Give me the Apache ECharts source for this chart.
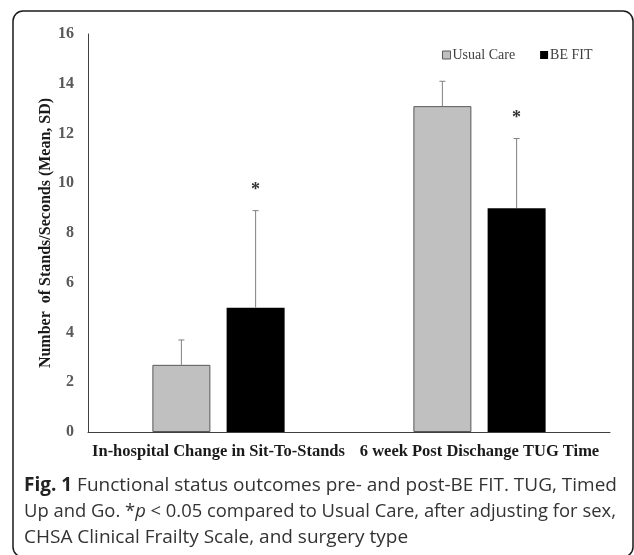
<!DOCTYPE html>
<html>
<head>
<meta charset="utf-8">
<script src="https://cdn.jsdelivr.net/npm/echarts@6/dist/echarts.min.js"></script>
<style>
html,body{margin:0;padding:0;background:#fff;}
#c{width:634px;height:555px;}
</style>
</head>
<body>
<div id="c"></div>
<script>
// ---- data ----
var categories = ['In-hospital Change in Sit-To-Stands', '6 week Post Dischange TUG Time'];
var seriesNames = ['Usual Care', 'BE FIT'];
var usualCareMean = [2.7, 13.1];
var usualCareSD = [1.0, 1.0];
var beFitMean = [5.0, 9.0];
var beFitSD = [3.9, 2.8];
var beFitSignificant = [true, true];
var yTicks = [0, 2, 4, 6, 8, 10, 12, 14, 16];

// ---- style constants ----
var SERIF = 'Liberation Serif';
var BAR_W = 58;
var GAP_RATIO = 0.28;
var OFFSET = (BAR_W + BAR_W * GAP_RATIO) / 2;

function errData(means, sds, sig) {
  return means.map(function (m, i) { return [i, m, sds[i], sig && sig[i] ? 1 : 0]; });
}

function errRender(dir) {
  return function (params, api) {
    var idx = api.value(0), mean = api.value(1), sd = api.value(2), sig = api.value(3);
    var p0 = api.coord([idx, mean]);
    var p1 = api.coord([idx, mean + sd]);
    var x = p0[0] + dir * OFFSET;
    var children = [
      { type: 'line', shape: { x1: x, y1: p0[1], x2: x, y2: p1[1] }, style: { stroke: '#808080', lineWidth: 1 } },
      { type: 'line', shape: { x1: x - 3, y1: p1[1], x2: x + 3, y2: p1[1] }, style: { stroke: '#808080', lineWidth: 1 } }
    ];
    if (sig) {
      children.push({ type: 'text', x: x, y: p1[1] - 20, style: { text: '*', fontFamily: SERIF, fontWeight: 'bold', fontSize: 18, fill: '#333', align: 'center', verticalAlign: 'middle' } });
    }
    return { type: 'group', children: children };
  };
}

var chart = echarts.init(document.getElementById('c'));
chart.setOption({
  animation: false,
  backgroundColor: '#fff',
  grid: { left: 88, right: 24, top: 34, bottom: 123 },
  legend: {
    data: [
      { name: seriesNames[0], itemStyle: { color: '#c0c0c0', borderColor: '#595959', borderWidth: 1 } },
      { name: seriesNames[1], itemStyle: { color: '#000' } }
    ],
    left: 437, top: 43, itemWidth: 8, itemHeight: 8, itemGap: 25,
    icon: 'rect',
    textStyle: { fontFamily: SERIF, fontSize: 14, color: '#404040', padding: [0, 0, 0, -3] }
  },
  xAxis: {
    type: 'category',
    data: categories,
    axisLine: { lineStyle: { color: '#404040', width: 1 } },
    axisTick: { show: false },
    axisLabel: { fontFamily: SERIF, fontWeight: 'bold', fontSize: 16.5, color: '#1a1a1a', margin: 11, interval: 0 }
  },
  yAxis: {
    type: 'value',
    min: yTicks[0], max: yTicks[yTicks.length - 1], interval: 2,
    name: 'Number  of Stands/Seconds (Mean, SD)',
    nameLocation: 'middle',
    nameGap: 34,
    nameMoveOverlap: false,
    nameTextStyle: { fontFamily: SERIF, fontWeight: 'bold', fontSize: 16, color: '#1a1a1a' },
    axisLine: { show: true, lineStyle: { color: '#404040', width: 1 } },
    axisTick: { show: false },
    splitLine: { show: false },
    axisLabel: { fontFamily: SERIF, fontWeight: 'bold', fontSize: 16, color: '#595959', margin: 14 }
  },
  graphic: [
    { type: 'rect', shape: { x: 13, y: 11, width: 620, height: 546, r: 10 }, style: { fill: 'none', stroke: '#1a1a1a', lineWidth: 1.5 }, z: 100 },
    { type: 'text', left: 24, top: 473, style: {
        text: '{b|Fig. 1} Functional status outcomes pre- and post-BE FIT. TUG, Timed\n{n|Up and Go. *}{i|p}{n| < 0.05 compared to Usual Care, after adjusting for sex,}\nCHSA Clinical Frailty Scale, and surgery type',
        fontFamily: 'Open Sans', fontSize: 19, fill: '#333', lineHeight: 26,
        rich: {
          b: { fontFamily: 'Open Sans', fontWeight: 'bold', fontSize: 19, fill: '#222', lineHeight: 26 },
          n: { fontFamily: 'Open Sans', fontSize: 18.4, fill: '#333', lineHeight: 26 },
          i: { fontFamily: 'Open Sans', fontStyle: 'italic', fontSize: 18.4, fill: '#333', lineHeight: 26 }
        }
      } }
  ],
  series: [
    { name: seriesNames[0], type: 'bar', data: usualCareMean, barWidth: BAR_W, barGap: (GAP_RATIO * 100) + '%',
      itemStyle: { color: '#c0c0c0', borderColor: '#595959', borderWidth: 1 } },
    { name: seriesNames[1], type: 'bar', data: beFitMean, barWidth: BAR_W,
      itemStyle: { color: '#000' } },
    { type: 'custom', renderItem: errRender(-1), data: errData(usualCareMean, usualCareSD, null), z: 5, silent: true },
    { type: 'custom', renderItem: errRender(1), data: errData(beFitMean, beFitSD, beFitSignificant), z: 5, silent: true }
  ]
});
</script>
</body>
</html>
